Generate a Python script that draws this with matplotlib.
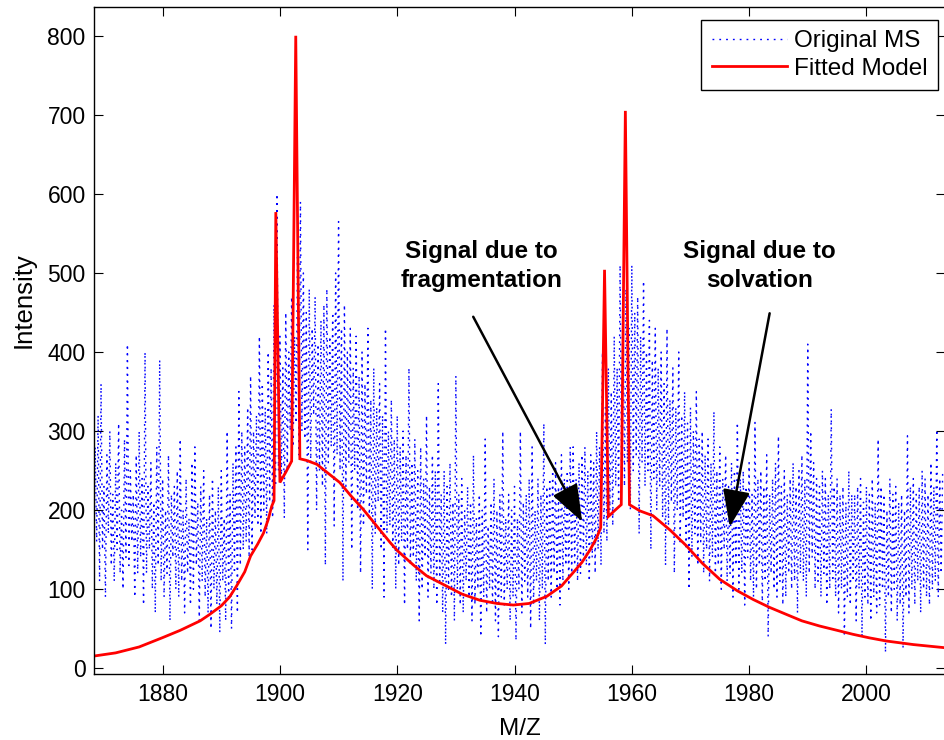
import numpy as np
import matplotlib
matplotlib.use("Agg")
import matplotlib.pyplot as plt
from matplotlib.patches import ArrowStyle

plt.rcParams['font.family'] = ['Liberation Sans', 'DejaVu Sans']

# ---------------- data ----------------
mz_start = 1868.0
mz_step = 0.25

# Original MS intensities (4 samples per m/z unit)
intensity_1868_1896 = [
    250, 130, 280, 160,  320, 110, 360, 150,  230, 90, 270, 170,  300, 130, 220, 110,
    260, 150, 310, 120,  200, 100, 290, 140,  410, 130, 250, 160,  220, 90, 270, 120,
    300, 140, 240, 80,   400, 120, 230, 150,  260, 100, 210, 70,   280, 130, 390, 110,
    240, 90, 200, 120,   270, 60, 220, 140,   230, 100, 250, 90,   290, 110, 200, 70,
    240, 120, 190, 80,   260, 100, 280, 130,  210, 60, 230, 110,   250, 90, 190, 70,
    220, 50, 240, 100,   200, 80, 230, 45,    250, 110, 190, 60,   300, 90, 220, 50,
    260, 120, 280, 70,   350, 130, 300, 150,  280, 160, 330, 140,  370, 150, 300, 190,
    320, 180, 420, 170,
]
intensity_1897_1925 = [
    360, 200, 330, 170,  400, 210, 380, 190,  460, 230, 600, 250,  420, 240, 380, 190,
    450, 250, 400, 300,  470, 280, 420, 310,  520, 270, 590, 300,  500, 290, 450, 150,
    480, 260, 430, 320,  470, 200, 410, 250,  440, 230, 460, 130,  480, 260, 420, 280,
    450, 180, 500, 270,  565, 250, 430, 110,  460, 230, 400, 260,  430, 150, 380, 250,
    420, 200, 370, 120,  400, 180, 360, 220,  430, 190, 340, 100,  380, 170, 330, 210,
    360, 150, 320, 90,   430, 170, 300, 180,  340, 150, 290, 100,  320, 130, 280, 160,
    300, 80, 270, 150,   380, 130, 260, 140,  290, 110, 250, 60,   280, 100, 240, 140,
    320, 90, 230, 120,
]
intensity_1926_1954 = [
    270, 100, 250, 80,   360, 110, 220, 70,   250, 30, 230, 100,   260, 90, 210, 60,
    370, 100, 220, 80,   240, 70, 200, 110,   230, 90, 210, 60,    270, 80, 190, 100,
    220, 40, 200, 90,    290, 70, 180, 100,   210, 80, 240, 60,    200, 40, 220, 90,
    300, 80, 190, 100,   220, 60, 200, 90,    230, 35, 190, 100,   300, 70, 210, 110,
    220, 90, 240, 50,    280, 80, 200, 110,   240, 60, 220, 100,   310, 30, 230, 110,
    240, 90, 250, 120,   260, 100, 230, 80,   270, 110, 240, 130,  250, 100, 280, 120,
    280, 130, 240, 110,  260, 120, 270, 140,  280, 130, 250, 110,  270, 140, 260, 120,
    300, 150, 280, 130,
]
intensity_1955_1983 = [
    400, 170, 330, 160,  380, 200, 350, 180,  420, 230, 380, 210,  510, 250, 460, 230,
    480, 260, 430, 200,  510, 250, 450, 270,  470, 170, 420, 260,  490, 230, 400, 250,
    440, 150, 390, 240,  430, 200, 380, 230,  400, 190, 360, 130,  430, 180, 340, 210,
    380, 120, 330, 200,  400, 160, 320, 190,  350, 150, 310, 100,  330, 140, 300, 170,
    350, 130, 290, 160,  300, 120, 270, 150,  290, 110, 260, 140,  325, 120, 250, 130,
    280, 100, 240, 150,  270, 110, 230, 120,  260, 90, 250, 130,   311, 100, 240, 120,
    250, 80, 230, 140,   260, 110, 220, 90,   311, 100, 240, 130,  250, 80, 230, 110,
    270, 40, 220, 120,
]
intensity_1984_2013 = [
    240, 100, 260, 90,   294, 110, 230, 80,   250, 90, 220, 120,   240, 100, 260, 110,
    230, 70, 250, 120,   270, 110, 240, 90,   410, 120, 300, 140,  260, 100, 240, 110,
    230, 90, 250, 120,   240, 80, 220, 100,   328, 110, 230, 90,   240, 70, 220, 100,
    230, 40, 210, 90,    250, 80, 220, 110,   220, 60, 230, 100,   240, 40, 210, 90,
    230, 80, 220, 60,    240, 90, 210, 70,    290, 80, 230, 100,   220, 20, 200, 90,
    240, 70, 220, 100,   230, 60, 210, 80,    220, 25, 200, 90,    294, 70, 230, 100,
    240, 80, 220, 110,   230, 70, 250, 100,   240, 90, 220, 80,    260, 100, 230, 110,
    302, 90, 240, 120,   250,
]

# Fitted model (m/z, intensity)
model_mz = [1868.3, 1872, 1876, 1880, 1883, 1886.4, 1888, 1890, 1891.4, 1892.6, 1894,
            1895, 1896.2, 1897.2, 1898.0, 1898.6, 1899.0, 1899.3, 1900.0, 1901.0,
            1902.0, 1902.7, 1903.4, 1904.5, 1906.3, 1908, 1910.2, 1912, 1914.2, 1916.5,
            1918.8, 1920, 1922.7, 1925, 1928.4, 1931, 1934.1, 1937, 1939.8, 1942.5,
            1945.5, 1948, 1950, 1951.5, 1952.9, 1954, 1954.7, 1955.35, 1956.0, 1957.0,
            1958.2, 1958.9, 1959.6, 1961.4, 1963.6, 1966.5, 1969.3, 1972, 1975, 1978,
            1980.7, 1983.5, 1986.4, 1989, 1992, 1995, 1997.7, 2000.5, 2003.4, 2008,
            2013.4]
model_int = [15.5, 19.5, 27, 38.8, 48, 60, 68, 79, 90, 104, 122,
             142, 157, 171, 188, 205, 212, 577, 235, 248,
             262, 800, 265, 263, 258, 248, 235, 219, 201, 180,
             159, 149, 131, 117, 104, 94, 86, 82, 80, 82,
             91, 104, 121, 134, 150, 165, 178, 504, 192, 199,
             207, 705, 207, 199, 193, 175, 155, 133, 112.5, 98,
             87, 77, 68, 60, 53.5, 48, 43, 38.5, 34.5, 30,
             26]

x_ticks = [1880, 1900, 1920, 1940, 1960, 1980, 2000]
y_ticks = [0, 100, 200, 300, 400, 500, 600, 700, 800]

# ---------------- figure ----------------
intensity = np.array(intensity_1868_1896 + intensity_1897_1925 + intensity_1926_1954
                     + intensity_1955_1983 + intensity_1984_2013, dtype=float)
mz = mz_start + mz_step * np.arange(len(intensity))

fig = plt.figure(figsize=(9.44, 7.4), dpi=100)
ax = fig.add_axes([94 / 944, 65.7 / 740, (945 - 94) / 944, 667 / 740])

ax.plot(mz, intensity, color=(0, 0, 1), linestyle=(0, (1.3, 3.6)), linewidth=1.0,
        label='Original MS')
ax.plot(model_mz, model_int, color='red', linewidth=2.0, label='Fitted Model',
        solid_joinstyle='miter')

ax.set_xlim(1868.3, 2013.4)
ax.set_ylim(-7.6, 836)
ax.set_xticks(x_ticks)
ax.set_yticks(y_ticks)
ax.tick_params(direction='in', top=True, right=True, length=6.3, width=0.8,
               labelsize=16.5, pad=6)
for s in ax.spines.values():
    s.set_linewidth(1.0)

ax.set_xlabel('M/Z', fontsize=17.5, labelpad=9)
ax.set_ylabel('Intensity', fontsize=18.5)
ax.yaxis.set_label_coords(-0.069, 0.561)

leg = ax.legend(loc='upper right', bbox_to_anchor=(938 / 944, 1 - 20 / 740),
                bbox_transform=fig.transFigure, borderaxespad=0, fontsize=17.5,
                frameon=True, fancybox=False, framealpha=1, edgecolor='black',
                handlelength=3.1, handletextpad=0.3, labelspacing=0.22,
                borderpad=0.42)
leg.get_frame().set_linewidth(1.0)

arrow = ArrowStyle('-|>', head_length=1.35, head_width=0.5)
ax.annotate('', xy=(1951.54, 185.4), xytext=(1932.96, 444.6),
            arrowprops=dict(arrowstyle=arrow, color='black', lw=1.8,
                            shrinkA=0, shrinkB=0, mutation_scale=17))
ax.annotate('', xy=(1976.7, 179), xytext=(1983.5, 449),
            arrowprops=dict(arrowstyle=arrow, color='black', lw=1.8,
                            shrinkA=0, shrinkB=0, mutation_scale=17))
ax.text(1934.4, 508.7, 'Signal due to\nfragmentation', ha='center', va='center',
        fontsize=17.5, fontweight='bold', linespacing=1.33)
ax.text(1981.76, 508.7, 'Signal due to\nsolvation', ha='center', va='center',
        fontsize=17.5, fontweight='bold', linespacing=1.33)

fig.savefig('out.png', dpi=100, facecolor='white')
